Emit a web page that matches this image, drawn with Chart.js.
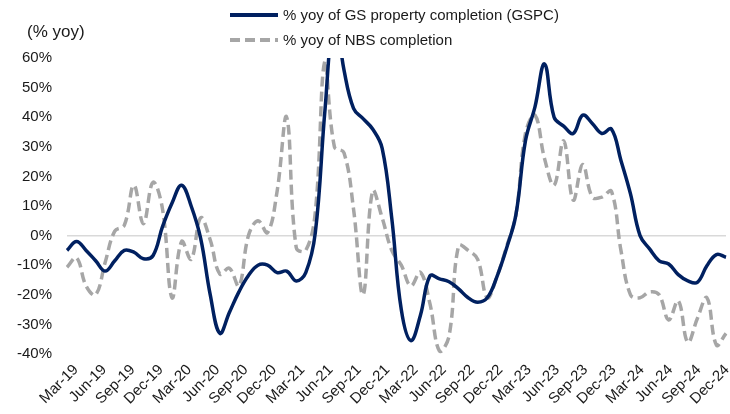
<!DOCTYPE html>
<html>
<head>
<meta charset="utf-8">
<script src="https://cdn.jsdelivr.net/npm/chart.js@4"></script>
<style>
  body { margin: 0; background: #fff; }
  #wrap { position: relative; width: 730px; height: 414px; font-family: "Liberation Sans", Arial, sans-serif; color: #1a1a1a; }
  #c { position: absolute; left: 0; top: 0; }
  .lg { position: absolute; left: 230px; font-size: 15px; line-height: 17px; white-space: nowrap; }
  .lg svg { vertical-align: middle; margin-right: 5px; position: relative; top: -1px; }
  #ytitle { position: absolute; left: 27px; top: 22px; font-size: 17px; line-height: 20px; }
</style>
</head>
<body>
<div id="wrap">
  <canvas id="c" width="730" height="414"></canvas>
  <div id="ytitle">(% yoy)</div>
  <div class="lg" style="top:6px"><svg width="48" height="6"><line x1="0" y1="3" x2="48" y2="3" stroke="#002060" stroke-width="4"/></svg>% yoy of GS property completion (GSPC)</div>
  <div class="lg" style="top:31px"><svg width="48" height="6"><line x1="0" y1="3" x2="48" y2="3" stroke="#A6A6A6" stroke-width="4" stroke-dasharray="10,5"/></svg>% yoy of NBS completion</div>
</div>
<script>
var months = [
  'Mar-19','Apr-19','May-19','Jun-19','Jul-19','Aug-19','Sep-19','Oct-19','Nov-19','Dec-19',
  'Jan-20','Feb-20','Mar-20','Apr-20','May-20','Jun-20','Jul-20','Aug-20','Sep-20','Oct-20','Nov-20','Dec-20',
  'Jan-21','Feb-21','Mar-21','Apr-21','May-21','Jun-21','Jul-21','Aug-21','Sep-21','Oct-21','Nov-21','Dec-21',
  'Jan-22','Feb-22','Mar-22','Apr-22','May-22','Jun-22','Jul-22','Aug-22','Sep-22','Oct-22','Nov-22','Dec-22',
  'Jan-23','Feb-23','Mar-23','Apr-23','May-23','Jun-23','Jul-23','Aug-23','Sep-23','Oct-23','Nov-23','Dec-23',
  'Jan-24','Feb-24','Mar-24','Apr-24','May-24','Jun-24','Jul-24','Aug-24','Sep-24','Oct-24','Nov-24','Dec-24'
];

// GS property completion, % yoy
var gspc = [
  -5, -2, -5, -8.5, -12, -8.5, -5, -5.6, -7.8, -6.8,
  3, 11, 17, 10, -1, -20, -33, -26, -19, -13.5, -10, -10,
  -12.5, -12, -15.3, -12.5, 1, 42, 75, 56, 43, 39.5, 36, 29.5,
  6, -25, -35.5, -27, -13.6, -14.6, -15.6, -18, -21, -22.5, -21, -14,
  -4.5, 7, 32, 43.5, 58, 40, 37, 34.5, 40.7, 37.9, 34.5, 36,
  25.4, 14.1, 0, -4.5, -8.5, -9.6, -13.2, -15.3, -15.8, -10.2, -6.4, -7.3
];

// NBS completion, % yoy
var nbs = [
  -10.7, -7.5, -17, -20, -9, 1.5, 3.5, 17, 4, 18,
  9, -21, -2, -8, 6, -1.5, -13, -11, -17, 0, 5, 1,
  15, 40, -4, -5, 8, 59, 30, 28, 9, -20, 15, 6,
  -5, -10, -17, -12.4, -23, -39, -34, -3.4, -5, -8, -21, -14,
  -4, 7, 34.5, 40.7, 26, 17, 32, 12, 24, 13, 13, 15,
  -5, -20, -21, -19, -20, -28.5, -22, -36, -28, -21, -37, -33
];

var yTicks = { min: -40, max: 60, step: 10 };

var font = { family: '"Liberation Sans", Arial, sans-serif', size: 15 };

new Chart(document.getElementById('c'), {
  type: 'line',
  data: {
    labels: months,
    datasets: [{
      label: '% yoy of GS property completion (GSPC)',
      data: gspc,
      borderColor: '#002060',
      borderWidth: 3.5,
      pointRadius: 0,
      tension: 0.4,
      fill: false
    }, {
      label: '% yoy of NBS completion',
      data: nbs,
      borderColor: '#A6A6A6',
      borderWidth: 3.5,
      borderDash: [10, 5],
      pointRadius: 0,
      tension: 0.4,
      fill: false
    }]
  },
  options: {
    responsive: false,
    animation: false,
    devicePixelRatio: 1,
    layout: { padding: { top: 58, right: 4, left: 0, bottom: 0 } },
    plugins: { legend: { display: false }, tooltip: { enabled: false } },
    scales: {
      x: {
        offset: false,
        grid: { display: false, drawTicks: false },
        border: { display: false },
        ticks: {
          autoSkip: false,
          maxRotation: 45,
          minRotation: 45,
          padding: 7,
          color: '#1a1a1a',
          font: font,
          callback: function(v, i) { return i % 3 === 0 ? months[i] : null; }
        },
        afterFit: function(s) {
          s.height = 60;
          s.paddingLeft = 0;
          s.paddingRight = 0;
          // labels in the original sit a little right of their month, less so towards the end
          if (!s._shifted) {
            s._shifted = true;
            s.getPixelForTick = function(index) {
              var t = this.ticks[index];
              if (!t) return null;
              return this.getPixelForValue(t.value) + 9 - 8 * t.value / (months.length - 1);
            };
          }
        }
      },
      y: {
        min: yTicks.min,
        max: yTicks.max,
        grid: {
          drawTicks: false,
          color: function(ctx) { return ctx.tick && ctx.tick.value === 0 ? '#D9D9D9' : 'rgba(0,0,0,0)'; },
          lineWidth: 1.5
        },
        border: { display: false },
        ticks: {
          stepSize: yTicks.step,
          padding: 15,
          color: '#1a1a1a',
          font: font,
          callback: function(v) { return v + '%'; }
        },
        afterFit: function(s) { s.width = 67; }
      }
    }
  }
});
</script>
</body>
</html>
